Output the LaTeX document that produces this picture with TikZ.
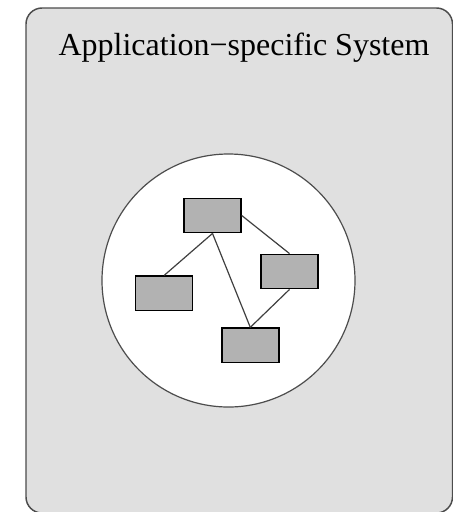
\documentclass[tikz,border=0pt]{standalone}
\usepackage{fontspec}
\setmainfont{Liberation Serif}
\usetikzlibrary{positioning}
\tikzset{
  unitbox/.style={draw=black, line width=1.1pt, fill=black!30, minimum width=42.75pt, minimum height=25.8pt, inner sep=0pt},
  link/.style={draw=black!75, line width=0.9pt},
}

\begin{document}
\begin{tikzpicture}[x=0.75pt, y=-0.75pt]
    \useasboundingbox (0,0) rectangle (453,512);
    \clip (0,0) rectangle (453,512);

    % System frame
    \draw[draw=black!70, line width=1.1pt, fill=black!12, rounded corners=12pt] (26,8) rectangle (452.5,513);
    \node[anchor=base, font=\fontsize{24}{28}\selectfont] (title) at (244,55) {Application−specific System};

    % Circle
    \node[circle, draw=black!70, line width=0.9pt, fill=white, minimum size=189.75pt, inner sep=0pt] (pool) at (228.5,280.5) {};

    % Components
    \foreach \n/\x/\y in {boxTop/212.5/215.5, boxRight/289.5/271.5, boxLeft/164.2/293.3, boxBottom/250.3/345.3}
        \node[unitbox] (\n) at (\x,\y) {};

    % Links
    \foreach \a/\b in {boxTop/boxLeft, boxTop/boxBottom, boxRight/boxBottom}
        \draw[link] (\a.south) -- (\b.north);
    \draw[link] (boxTop.east) -- (boxRight.north);
\end{tikzpicture}
\end{document}
